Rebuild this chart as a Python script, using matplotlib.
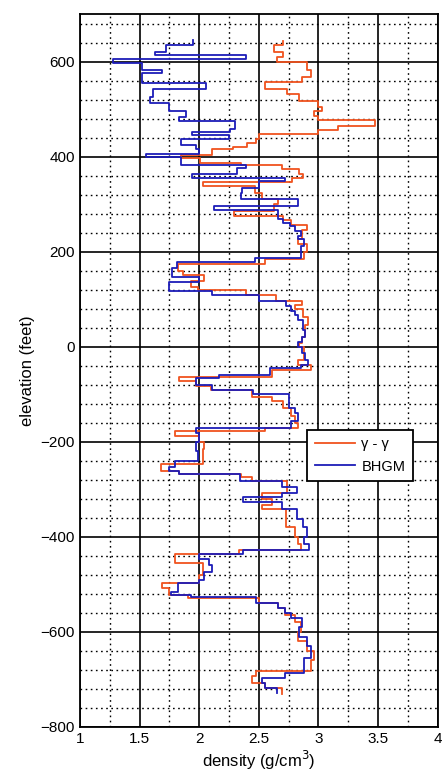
import numpy as np
import matplotlib
matplotlib.use("Agg")
import matplotlib.pyplot as plt
from matplotlib.ticker import MultipleLocator, FormatStrFormatter

plt.rcParams['font.family'] = ['Liberation Sans', 'DejaVu Sans']

# gamma-gamma log: step edges (elevation, ft) and density in each step (g/cm3)
gg_edges = [643, 634, 620, 609, 599, 582, 568, 557, 543, 531, 517, 505, 495, 485,
            477, 465, 456, 447, 438, 429, 421, 415, 404, 398, 387, 383, 373, 364,
            354, 346, 338, 324, 310, 300, 286, 276, 266, 256, 245, 226, 216, 199,
            185, 174, 160, 150, 139, 125, 120, 108, 97, 88, 80, 63, 45, 20, 7, 0,
            -28, -38, -49, -63, -73, -82, -90, -105, -114, -129, -145, -160, -171,
            -178, -188, -200, -216, -240, -247, -261, -268, -275, -282, -307, -320,
            -334, -341, -380, -400, -415, -427, -437, -456, -480, -498, -508, -522,
            -529, -540, -550, -565, -580, -600, -620, -640, -660, -683, -693, -707,
            -717, -731]
gg_dens = [2.70, 2.63, 2.70, 2.65, 2.90, 2.94, 2.86, 2.55, 2.74, 2.84, 3.00, 3.03,
           2.96, 3.00, 3.47, 3.16, 3.00, 2.50, 2.48, 2.40, 2.28, 2.11, 1.85, 2.01,
           2.35, 2.69, 2.84, 2.87, 2.78, 2.03, 2.47, 2.53, 2.66, 2.63, 2.29, 2.70,
           2.77, 2.90, 2.86, 2.83, 2.90, 2.88, 2.55, 1.82, 1.86, 2.04, 1.93, 1.99,
           2.39, 2.64, 2.86, 2.80, 2.87, 2.91, 2.89, 2.86, 2.84, 2.88, 2.83, 2.94,
           2.61, 1.83, 1.97, 2.10, 2.44, 2.61, 2.70, 2.77, 2.80, 2.83, 2.55, 1.80,
           2.00, 2.04, 2.03, 2.03, 1.68, 1.83, 2.35, 2.44, 2.74, 2.53, 2.61, 2.53,
           2.73, 2.80, 2.83, 2.85, 2.33, 1.80, 2.03, 2.00, 1.69, 1.75, 1.91, 2.50,
           2.66, 2.72, 2.80, 2.85, 2.83, 2.90, 2.96, 2.94, 2.48, 2.44, 2.55, 2.69]

# borehole gravity meter
bh_edges = [645, 634, 620, 613, 605, 596, 582, 576, 554, 542, 526, 513, 495, 484,
            476, 459, 451, 446, 437, 424, 415, 406, 400, 383, 376, 364, 355, 348,
            335, 324, 310, 297, 288, 268, 261, 254, 244, 234, 226, 212, 187, 178,
            165, 146, 136, 118, 108, 96, 86, 76, 66, 56, 35, 21, 10, 0, -14, -28,
            -38, -45, -59, -65, -80, -90, -99, -129, -140, -157, -171, -181, -200,
            -220, -240, -254, -262, -268, -282, -296, -307, -317, -327, -341, -362,
            -380, -400, -415, -427, -437, -446, -460, -475, -491, -498, -515, -522,
            -527, -540, -550, -560, -571, -590, -610, -630, -655, -686, -698, -707,
            -717, -728]
bh_dens = [1.95, 1.72, 1.63, 2.39, 1.28, 1.52, 1.69, 1.52, 2.06, 1.61, 1.59, 1.75,
           1.89, 1.83, 2.30, 2.26, 1.94, 2.25, 1.85, 1.97, 2.00, 1.55, 1.85, 2.39,
           2.32, 1.94, 2.72, 2.50, 2.36, 2.35, 2.83, 2.12, 2.66, 2.70, 2.76, 2.80,
           2.85, 2.83, 2.88, 2.85, 2.47, 1.81, 1.77, 2.00, 1.75, 2.11, 2.50, 2.73,
           2.77, 2.80, 2.83, 2.87, 2.89, 2.86, 2.83, 2.86, 2.89, 2.91, 2.85, 2.59,
           2.17, 1.97, 2.11, 2.45, 2.75, 2.80, 2.83, 2.77, 1.97, 2.00, 1.97, 1.99,
           1.80, 1.75, 1.83, 2.34, 2.69, 2.82, 2.69, 2.37, 2.69, 2.82, 2.87, 2.90,
           2.88, 2.92, 2.37, 2.00, 2.08, 2.11, 2.04, 2.00, 1.82, 1.76, 1.93, 2.48,
           2.66, 2.72, 2.77, 2.86, 2.84, 2.90, 2.94, 2.88, 2.72, 2.53, 2.55, 2.65]

c_red = "#f0531f"
c_blue = "#1c1cb8"


def step_xy(edges, dens):
    e = np.asarray(edges, dtype=float)
    d = np.asarray(dens, dtype=float)
    x = np.repeat(d, 2)
    y = np.column_stack([e[:-1], e[1:]]).ravel()
    return x, y


fig = plt.figure(figsize=(4.44, 7.80), dpi=100)
ax = fig.add_axes([0.180, 0.068, 0.806, 0.914])

x, y = step_xy(gg_edges, gg_dens)
ax.plot(x, y, color=c_red, lw=1.3, label="\u03b3 - \u03b3")
x, y = step_xy(bh_edges, bh_dens)
ax.plot(x, y, color=c_blue, lw=1.3, label="BHGM")

ax.set_xlim(1, 4)
ax.set_ylim(-800, 700)
ax.set_xticks(np.arange(1, 4.01, 0.5))
ax.xaxis.set_major_formatter(FormatStrFormatter("%g"))
ax.xaxis.set_minor_locator(MultipleLocator(0.25))
ax.set_yticks(np.arange(-800, 601, 200))
ax.yaxis.set_minor_locator(MultipleLocator(40))

ax.grid(which="major", color="black", lw=1.2, ls="-")
ax.grid(which="minor", color="black", lw=1.0, ls=(0, (1.2, 2.5)))
ax.set_axisbelow(True)
ax.tick_params(which="both", direction="in", length=0, labelsize=11)
for s in ax.spines.values():
    s.set_linewidth(1.3)

ax.set_xlabel("density (g/cm$^3$)", fontsize=12, labelpad=2)
ax.set_ylabel("elevation (feet)", fontsize=12, labelpad=4)

leg = ax.legend(loc="lower left", bbox_to_anchor=(0.615, 0.335), fancybox=False,
                framealpha=1, edgecolor="black", fontsize=10.5, handlelength=2.8,
                borderpad=0.5, labelspacing=0.6, handletextpad=0.4)
leg.get_frame().set_linewidth(1.3)

fig.savefig("out.png", dpi=100, facecolor="white")
